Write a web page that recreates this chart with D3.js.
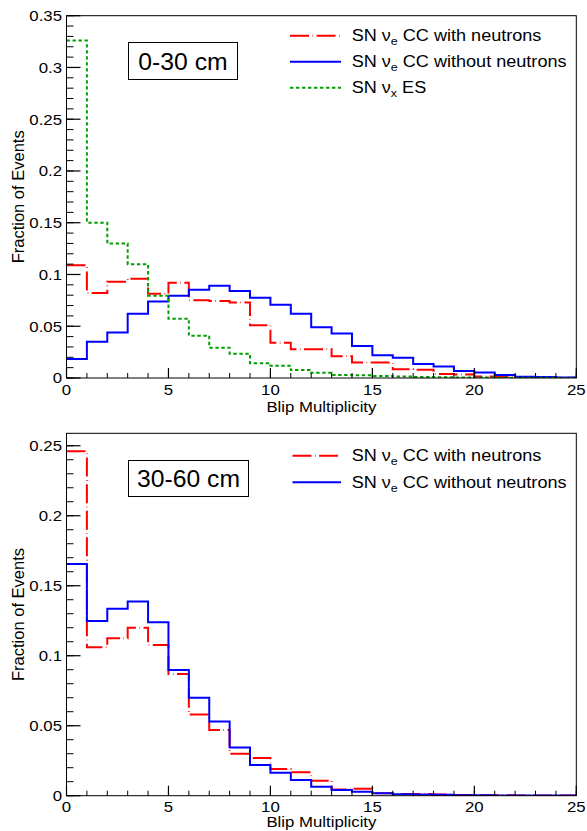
<!DOCTYPE html>
<html>
<head>
<meta charset="utf-8">
<script src="https://cdn.jsdelivr.net/npm/d3@7"></script>
<style>
  html, body { margin: 0; padding: 0; background: #fff; }
  svg { display: block; }
  text { font-family: "Liberation Sans", Arial, Helvetica, sans-serif; fill: #000; }
</style>
</head>
<body>
<svg id="chart" width="587" height="831"></svg>
<script>
// ---- data ----
const bins = d3.range(0, 25); // Blip multiplicity bins 0..24 (width 1)
const xTicks = [0, 5, 10, 15, 20, 25];

// Panel 1: 0-30 cm
const top_ccWithN = [0.109, 0.082, 0.093, 0.096, 0.0815, 0.092, 0.075, 0.0745, 0.073, 0.051,
                     0.034, 0.0277, 0.0277, 0.021, 0.015, 0.015, 0.0085, 0.008, 0.0039, 0.0035,
                     0.0015, 0.0013, 0.0008, 0.0005, 0.0003];
const top_ccWithoutN = [0.0184, 0.035, 0.044, 0.062, 0.074, 0.0795, 0.0853, 0.089, 0.084, 0.0776,
                        0.0708, 0.062, 0.049, 0.043, 0.031, 0.022, 0.0196, 0.0135, 0.011, 0.0068,
                        0.0052, 0.003, 0.0013, 0.001, 0.0006];
const top_es = [0.326, 0.150, 0.130, 0.110, 0.0795, 0.0573, 0.0409, 0.0293, 0.0235, 0.0142,
                0.0119, 0.0077, 0.005, 0.003, 0.0026, 0.002, 0.0015, 0.001, 0.0008, 0.0005,
                0.0004, 0.0003, 0.0002, 0.0002, 0.0001];
const top_yTicks = [0, 0.05, 0.1, 0.15, 0.2, 0.25, 0.3, 0.35];

// Panel 2: 30-60 cm
const bot_ccWithN = [0.246, 0.106, 0.1124, 0.12, 0.1076, 0.0869, 0.058, 0.047, 0.030, 0.027,
                     0.019, 0.0167, 0.0107, 0.0045, 0.005, 0.0017, 0.0012, 0.0012, 0.0008, 0.0005,
                     0.0004, 0.0003, 0.0002, 0.0002, 0.0001];
const bot_ccWithoutN = [0.1655, 0.1248, 0.1336, 0.1388, 0.124, 0.0898, 0.070, 0.053, 0.0345, 0.022,
                        0.0164, 0.0112, 0.0064, 0.004, 0.0029, 0.0017, 0.001, 0.0008, 0.0006, 0.0004,
                        0.0003, 0.0002, 0.0002, 0.0001, 0.0001];
const bot_yTicks = [0, 0.05, 0.1, 0.15, 0.2, 0.25];

const labels = {
  withN: ["SN ν", "e", " CC with neutrons"],
  withoutN: ["SN ν", "e", " CC without neutrons"],
  es: ["SN ν", "x", " ES"]
};

// ---- styles ----
const styles = {
  withN: { color: "#ff0000", dash: "19,3.5,0.6,3.5" },
  withoutN: { color: "#0000ff", dash: null },
  es: { color: "#00a000", dash: "3.4,2.6" }
};

const svg = d3.select("#chart");

function stext(g, x, y, s, size, anchor, sx) {
  return g.append("text")
    .attr("transform", `translate(${x},${y}) scale(${sx},1)`)
    .attr("text-anchor", anchor)
    .style("font-size", size + "px")
    .text(s);
}

function panel(opts) {
  const { left, right, top, bottom, yMax, yTicks, yMinorStep, series, title, box, legendRows, xTitleOffset } = opts;
  const g = svg.append("g");
  const x = d3.scaleLinear().domain([0, 25]).range([left, right]);
  const y = d3.scaleLinear().domain([0, yMax]).range([bottom, top]);

  const clipId = "clip" + Math.round(top);
  g.append("clipPath").attr("id", clipId)
    .append("rect").attr("x", left).attr("y", top).attr("width", right - left).attr("height", bottom - top);

  // histograms
  const line = d3.line().x(d => x(d[0])).y(d => y(d[1])).curve(d3.curveStepAfter);
  series.forEach(s => {
    const pts = s.values.map((v, i) => [bins[i], v]);
    pts.push([25, s.values[s.values.length - 1]]);
    const st = styles[s.key];
    g.append("path")
      .attr("clip-path", `url(#${clipId})`)
      .attr("d", line(pts))
      .attr("fill", "none")
      .attr("stroke", st.color)
      .attr("stroke-width", 2)
      .attr("stroke-dasharray", st.dash);
  });

  // frame
  g.append("rect").attr("x", left).attr("y", top)
    .attr("width", right - left).attr("height", bottom - top)
    .attr("fill", "none").attr("stroke", "#000").attr("stroke-width", 1);

  // y axis ticks (inside)
  const nMinor = Math.round(yMax / yMinorStep + 1e-6);
  const minorY = d3.range(0, nMinor + 1).map(i => i * yMinorStep).filter(v => v <= yMax + 1e-9);
  g.selectAll(null).data(minorY).enter().append("line")
    .attr("x1", left).attr("x2", left + 7)
    .attr("y1", d => y(d)).attr("y2", d => y(d))
    .attr("stroke", "#000").attr("stroke-width", 1);
  g.selectAll(null).data(yTicks).enter().append("line")
    .attr("x1", left).attr("x2", left + 14)
    .attr("y1", d => y(d)).attr("y2", d => y(d))
    .attr("stroke", "#000").attr("stroke-width", 1.2);
  yTicks.forEach(t => {
    stext(g, left - 4.5, y(t) + 5.4, d3.format("")(+t.toFixed(2)), 15, "end", 1.12);
  });

  // x axis ticks (inside)
  g.selectAll(null).data(d3.range(0, 26)).enter().append("line")
    .attr("x1", d => x(d)).attr("x2", d => x(d))
    .attr("y1", bottom).attr("y2", bottom - 5)
    .attr("stroke", "#000").attr("stroke-width", 1);
  g.selectAll(null).data(xTicks).enter().append("line")
    .attr("x1", d => x(d)).attr("x2", d => x(d))
    .attr("y1", bottom).attr("y2", bottom - 10)
    .attr("stroke", "#000").attr("stroke-width", 1.2);
  xTicks.forEach(t => stext(g, x(t), bottom + 16.5, String(t), 15, "middle", 1.12));

  // axis titles
  stext(g, (left + right) / 2, bottom + xTitleOffset, "Blip Multiplicity", 15, "middle", 1.12);
  g.append("text")
    .attr("transform", `translate(24,${(top + bottom) / 2}) rotate(-90)`)
    .attr("text-anchor", "middle")
    .style("font-size", "16.5px")
    .text("Fraction of Events");

  // region box
  g.append("rect").attr("x", box.x0).attr("y", box.y0)
    .attr("width", box.x1 - box.x0).attr("height", box.y1 - box.y0)
    .attr("fill", "#fff").attr("stroke", "#000").attr("stroke-width", 1);
  stext(g, (box.x0 + box.x1) / 2, (box.y0 + box.y1) / 2 + 8.6, title, 24, "middle", 1.03);

  // legend
  legendRows.forEach(r => {
    const st = styles[r.key];
    g.append("line")
      .attr("x1", r.lx0).attr("x2", 341)
      .attr("y1", r.y).attr("y2", r.y)
      .attr("stroke", st.color).attr("stroke-width", 2)
      .attr("stroke-dasharray", st.dash);
    const t = g.append("text")
      .attr("transform", `translate(351.7,${r.y + 5.6}) scale(1.13,1)`)
      .style("font-size", "16px");
    const lab = labels[r.key];
    t.append("tspan").text(lab[0]);
    t.append("tspan").attr("dy", 4).style("font-size", "11px").text(lab[1]);
    t.append("tspan").attr("dy", -4).text(lab[2]);
  });
}

panel({
  left: 66.5, right: 576.3, top: 15.7, bottom: 378,
  yMax: 0.35, yTicks: top_yTicks, yMinorStep: 0.01,
  series: [
    { key: "withN", values: top_ccWithN },
    { key: "withoutN", values: top_ccWithoutN },
    { key: "es", values: top_es }
  ],
  title: "0-30 cm",
  box: { x0: 128.5, x1: 237.5, y0: 42.5, y1: 79.5 },
  xTitleOffset: 34,
  legendRows: [
    { key: "withN", y: 35.7, lx0: 290 },
    { key: "withoutN", y: 61.7, lx0: 290 },
    { key: "es", y: 87.7, lx0: 290 }
  ]
});

panel({
  left: 66.5, right: 576.3, top: 433.3, bottom: 795.7,
  yMax: 0.2589, yTicks: bot_yTicks, yMinorStep: 0.01,
  series: [
    { key: "withN", values: bot_ccWithN },
    { key: "withoutN", values: bot_ccWithoutN }
  ],
  title: "30-60 cm",
  box: { x0: 128.5, x1: 248.5, y0: 460.5, y1: 496.5 },
  xTitleOffset: 31,
  legendRows: [
    { key: "withN", y: 455.7, lx0: 292.5 },
    { key: "withoutN", y: 482.3, lx0: 292.5 }
  ]
});
</script>
</body>
</html>
